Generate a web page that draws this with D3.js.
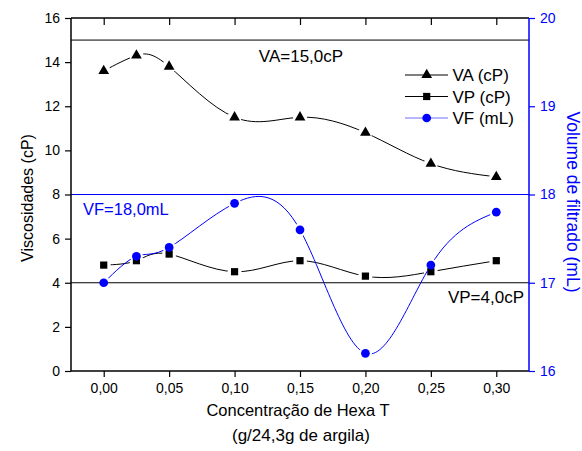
<!DOCTYPE html>
<html><head><meta charset="utf-8">
<script src="https://cdn.jsdelivr.net/npm/d3@7/dist/d3.min.js"></script>
<style>body{margin:0;background:#fff}svg{display:block;font-family:"Liberation Sans",Arial,sans-serif}</style>
</head><body><svg id="c" width="582" height="451"></svg>
<script>
const conc = [0.00, 0.025, 0.05, 0.10, 0.15, 0.20, 0.25, 0.30];
const va = [13.6, 14.3, 13.8, 11.5, 11.5, 10.8, 9.4, 8.8];
const vp = [4.8, 5.0, 5.3, 4.5, 5.0, 4.3, 4.5, 5.0];
const vf = [17.0, 17.3, 17.4, 17.9, 17.6, 16.2, 17.2, 17.8];
const xTicks = [0.00, 0.05, 0.10, 0.15, 0.20, 0.25, 0.30];
const yLeftTicks = [0, 2, 4, 6, 8, 10, 12, 14, 16];
const yRightTicks = [16, 17, 18, 19, 20];
const refVA = 15.0, refVP = 4.0, refVF = 18.0;

const svg = d3.select("#c");
const L = 71, R = 529, T = 18, B = 371;
const BLUE = "#0000ff";
const x = d3.scaleLinear().domain([-0.025, 0.325]).range([L, R]);
const yl = d3.scaleLinear().domain([0, 16]).range([B, T]);
const yr = d3.scaleLinear().domain([16, 20]).range([B, T]);
const fmt = d => d.toFixed(2).replace(".", ",");
const defs = svg.append("defs");

// reference lines
svg.append("line").attr("x1", L).attr("x2", R).attr("y1", yl(refVA)).attr("y2", yl(refVA)).attr("stroke", "#000").attr("stroke-width", 1);
svg.append("line").attr("x1", L).attr("x2", R).attr("y1", yl(refVP)).attr("y2", yl(refVP)).attr("stroke", "#000").attr("stroke-width", 1);
svg.append("line").attr("x1", L).attr("x2", R).attr("y1", yr(refVF)).attr("y2", yr(refVF)).attr("stroke", BLUE).attr("stroke-width", 1);

svg.append("text").attr("x", 301).attr("y", 62).attr("text-anchor", "middle").attr("font-size", 17).text("VA=15,0cP");
svg.append("text").attr("x", 83).attr("y", 215).attr("font-size", 16.5).attr("fill", BLUE).text("VF=18,0mL");
svg.append("text").attr("x", 524).attr("y", 303).attr("text-anchor", "end").attr("font-size", 17).text("VP=4,0cP");

// axes
const xMinor = d3.range(-0.025, 0.326, 0.025).map(v => +v.toFixed(3));
const gBottom = svg.append("g").attr("transform", `translate(0,${B})`);
gBottom.call(d3.axisBottom(x).tickValues(xMinor).tickSize(3).tickFormat(""));
gBottom.call(d3.axisBottom(x).tickValues(xTicks).tickSize(6).tickFormat(fmt).tickPadding(6));
gBottom.select(".domain").attr("d", `M${L},0H${R}`);
const gTop = svg.append("g").attr("transform", `translate(0,${T})`);
gTop.call(d3.axisTop(x).tickValues(xMinor).tickSize(-4).tickFormat(""));
gTop.call(d3.axisTop(x).tickValues(xTicks).tickSize(-7).tickFormat(""));
gTop.select(".domain").attr("d", `M${L},0H${R}`);

const gLeft = svg.append("g").attr("transform", `translate(${L},0)`);
gLeft.call(d3.axisLeft(yl).tickValues(d3.range(0, 17, 1)).tickSize(3).tickFormat(""));
gLeft.call(d3.axisLeft(yl).tickValues(yLeftTicks).tickSize(6).tickFormat(d3.format("d")).tickPadding(5));
gLeft.selectAll(".domain").attr("d", `M0,${B}V${T}`);

const gRight = svg.append("g").attr("transform", `translate(${R},0)`);
gRight.call(d3.axisRight(yr).tickValues(d3.range(16, 20.01, 0.5)).tickSize(3).tickFormat(""));
gRight.call(d3.axisRight(yr).tickValues(yRightTicks).tickSize(6).tickFormat(d3.format("d")).tickPadding(5));
gRight.selectAll(".domain").attr("d", `M0,${B}V${T}`);
gRight.selectAll("line,path").attr("stroke", BLUE);
gRight.selectAll("text").attr("fill", BLUE);

svg.selectAll(".tick text").attr("font-size", 14).attr("font-family", "Liberation Sans, Arial, sans-serif");
svg.selectAll(".domain").attr("stroke-width", 1.5);
svg.selectAll(".tick line").attr("stroke-width", 1.2);

// titles
svg.append("text").attr("transform", "translate(33,198) rotate(-90)").attr("text-anchor", "middle").attr("font-size", 16).text("Viscosidades (cP)");
svg.append("text").attr("transform", "translate(567,202) rotate(90)").attr("text-anchor", "middle").attr("font-size", 17.5).attr("fill", BLUE).text("Volume de filtrado (mL)");
svg.append("text").attr("x", 298).attr("y", 416).attr("text-anchor", "middle").attr("font-size", 16.5).text("Concentração de Hexa T");
svg.append("text").attr("x", 301).attr("y", 441).attr("text-anchor", "middle").attr("font-size", 17).text("(g/24,3g de argila)");

// series
const tri = d3.symbol().type(d3.symbolTriangle).size(50);
const sq = d3.symbol().type(d3.symbolSquare).size(52);
const circ = d3.symbol().type(d3.symbolCircle).size(60);
function series(id, vals, ys, color, sym, gap) {
  const pts = conc.map((c, i) => [x(c), ys(vals[i])]);
  const m = defs.append("mask").attr("id", id).attr("maskUnits", "userSpaceOnUse")
    .attr("x", 0).attr("y", 0).attr("width", 582).attr("height", 451);
  m.append("rect").attr("width", 582).attr("height", 451).attr("fill", "#fff");
  m.selectAll("circle").data(pts).join("circle").attr("cx", d => d[0]).attr("cy", d => d[1]).attr("r", gap).attr("fill", "#000");
  svg.append("path").attr("d", d3.line().curve(d3.curveNatural)(pts)).attr("fill", "none")
    .attr("stroke", color).attr("stroke-width", 1).attr("mask", `url(#${id})`);
  svg.append("g").selectAll("path").data(pts).join("path")
    .attr("transform", d => `translate(${d[0]},${d[1]})`).attr("d", sym).attr("fill", color);
}
series("mvp", vp, yl, "#000", sq, 7);
series("mva", va, yl, "#000", tri, 7);
series("mvf", vf, yr, BLUE, circ, 6.5);

// legend
const leg = [["VA (cP)", "#000", "#000", tri], ["VP (cP)", "#000", "#000", sq], ["VF (mL)", BLUE, "#6f6fff", circ]];
leg.forEach((d, i) => {
  const yy = 75 + i * 21.5;
  svg.append("line").attr("x1", 405).attr("x2", 448).attr("y1", yy).attr("y2", yy).attr("stroke", d[2]).attr("stroke-width", 1);
  svg.append("path").attr("transform", `translate(426.7,${yy})`).attr("d", d[3]).attr("fill", d[1]);
  svg.append("text").attr("x", 452.5).attr("y", yy + 6).attr("font-size", 17).text(d[0]);
});
</script></body></html>
